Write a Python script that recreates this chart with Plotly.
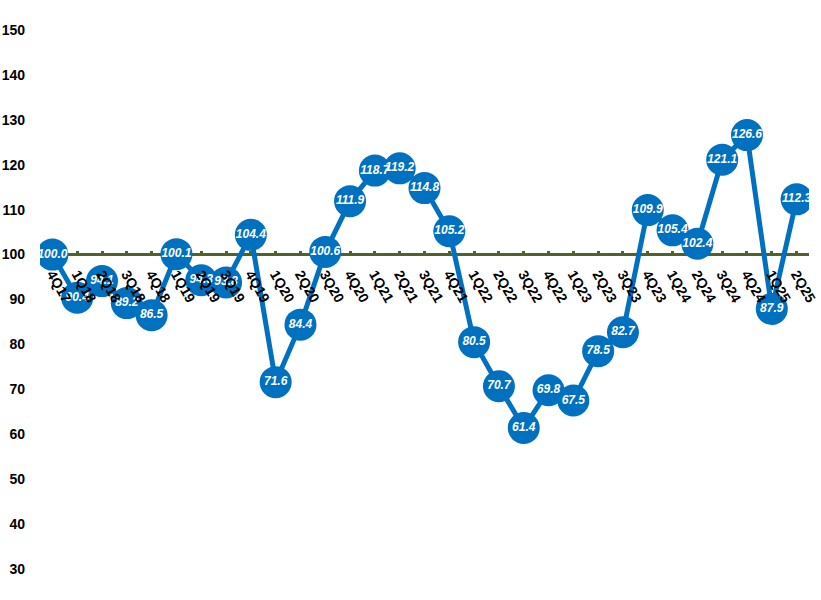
import plotly.graph_objects as go

# quarterly index, 4Q17 = 100
quarters = ["4Q17", "1Q18", "2Q18", "3Q18", "4Q18", "1Q19", "2Q19", "3Q19", "4Q19",
            "1Q20", "2Q20", "3Q20", "4Q20", "1Q21", "2Q21", "3Q21", "4Q21",
            "1Q22", "2Q22", "3Q22", "4Q22", "1Q23", "2Q23", "3Q23", "4Q23",
            "1Q24", "2Q24", "3Q24", "4Q24", "1Q25", "2Q25"]
index_values = [100.0, 90.4, 94.1, 89.2, 86.5, 100.1, 94.3, 93.8, 104.4,
                71.6, 84.4, 100.6, 111.9, 118.7, 119.2, 114.8, 105.2,
                80.5, 70.7, 61.4, 69.8, 67.5, 78.5, 82.7, 109.9,
                105.4, 102.4, 121.1, 126.6, 87.9, 112.3]
base_level = 100
y_ticks = list(range(30, 151, 10))

BLUE = "#0070C0"
GREEN = "#4F6228"
y_min, y_max = 30, 150
x_range = [-0.5, len(quarters) - 0.5]
axis_pos = (base_level - y_min) / (y_max - y_min)

fig = go.Figure()
# invisible helper so the tick-mark axis gets drawn
fig.add_trace(go.Scatter(
    x=list(range(len(quarters))), y=[base_level] * len(quarters),
    xaxis="x2", mode="lines", line=dict(color="rgba(0,0,0,0)", width=0),
    hoverinfo="skip", showlegend=False,
))
fig.add_trace(go.Scatter(
    x=quarters, y=index_values,
    mode="lines+markers+text",
    line=dict(color=BLUE, width=5),
    marker=dict(size=32, color=BLUE),
    texttemplate="%{y:.1f}",
    textposition="middle center",
    textfont=dict(color="white", size=12, family="Arial, Liberation Sans",
                  weight="bold", style="italic"),
    showlegend=False,
))

# base line at 100 (acts as the category axis)
fig.add_shape(type="line", xref="paper", x0=0, x1=1, yref="y",
              y0=base_level, y1=base_level,
              line=dict(color=GREEN, width=3), layer="below")

fig.update_layout(
    width=821, height=600,
    plot_bgcolor="white", paper_bgcolor="white",
    margin=dict(l=40, r=12, t=30, b=31),
    font=dict(family="Arial, Liberation Sans", color="black"),
    xaxis=dict(
        type="category",
        anchor="free",
        position=axis_pos,
        automargin=False,
        showline=False, showgrid=False, zeroline=False,
        ticks="",
        tickangle=60,
        ticklabelstandoff=8,
        tickfont=dict(size=14, weight="bold", color="black"),
        range=x_range,
    ),
    # tick marks only, kept behind the markers
    xaxis2=dict(
        overlaying="x",
        anchor="free",
        position=axis_pos,
        automargin=False,
        range=x_range,
        tick0=0, dtick=1,
        showline=False, showgrid=False, zeroline=False,
        showticklabels=False,
        ticks="inside", ticklen=4, tickwidth=3, tickcolor=GREEN,
        layer="below traces",
    ),
    yaxis=dict(
        range=[y_min, y_max],
        tickvals=y_ticks,
        automargin=False,
        showgrid=False, zeroline=False, showline=False,
        ticks="",
        ticklabelstandoff=14,
        tickfont=dict(size=14, weight="bold", color="black"),
    ),
)

# drop the default page margin so the 821x600 figure fills the window
fig.write_html("out.html", config={"displayModeBar": False},
               post_script="document.body.style.margin='0';")
